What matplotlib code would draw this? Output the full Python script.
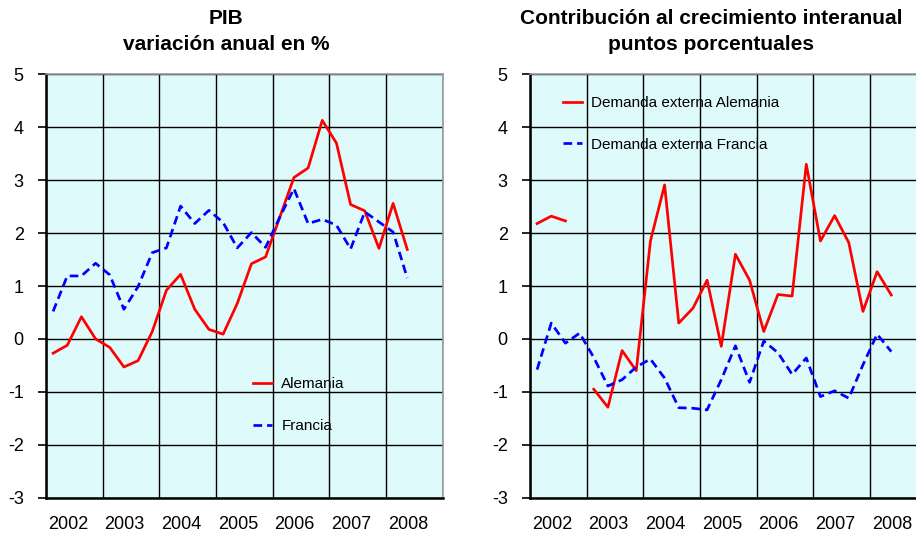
import matplotlib
matplotlib.use("Agg")
import matplotlib.pyplot as plt
import numpy as np

plt.rcParams['font.family'] = ['Liberation Sans', 'DejaVu Sans']
plt.rcParams['axes.unicode_minus'] = False

# quarterly data 2002T1 .. 2008T2
years = [2002, 2003, 2004, 2005, 2006, 2007, 2008]
quarters = [(y, q) for y in years for q in range(1, 5)][:26]

pib_alemania = [-0.27, -0.12, 0.42, 0.00, -0.16, -0.53, -0.41, 0.14,
                0.92, 1.22, 0.56, 0.18, 0.09, 0.67, 1.42, 1.55,
                2.30, 3.05, 3.23, 4.13, 3.70, 2.54, 2.42, 1.71,
                2.56, 1.69]
pib_francia = [0.52, 1.19, 1.19, 1.43, 1.21, 0.56, 0.99, 1.63,
               1.72, 2.51, 2.18, 2.43, 2.20, 1.72, 2.01, 1.73,
               2.30, 2.84, 2.18, 2.26, 2.15, 1.70, 2.40, 2.21,
               2.02, 1.15]

dem_ext_alemania = [2.18, 2.32, 2.23, np.nan, -0.95, -1.29, -0.22, -0.60,
                    1.85, 2.91, 0.30, 0.58, 1.11, -0.14, 1.60, 1.11,
                    0.14, 0.84, 0.81, 3.30, 1.85, 2.33, 1.82, 0.52,
                    1.27, 0.83]
dem_ext_francia = [-0.58, 0.30, -0.08, 0.11, -0.35, -0.89, -0.77, -0.53,
                   -0.38, -0.74, -1.30, -1.31, -1.34, -0.77, -0.13, -0.82,
                   -0.04, -0.26, -0.67, -0.36, -1.09, -0.98, -1.12, -0.49,
                   0.09, -0.24]

x = np.array([y + (q - 0.5) / 4 for y, q in quarters])

bg = '#DFFAFA'
red = '#FF0000'
blue = '#0000FF'

fig = plt.figure(figsize=(9.16, 5.33), dpi=100)

def setup(ax):
    ax.set_facecolor(bg)
    ax.set_xlim(years[0], years[-1] + 1)
    ax.set_ylim(-3, 5)
    ax.set_yticks(range(-3, 6))
    ax.set_xticks(range(years[0], years[-1] + 2))
    # year labels sit a little left of the column centre, as in the original
    ax.set_xticks([y + 0.385 for y in years], minor=True)
    ax.set_xticklabels([])
    ax.set_xticklabels([str(y) for y in years], minor=True)
    ax.tick_params(axis='x', which='both', length=0)
    ax.tick_params(axis='x', which='minor', pad=13, labelsize=13)
    ax.tick_params(axis='y', length=5.5, width=1.2, direction='out', pad=10.5, labelsize=13)
    ax.grid(True, which='major', color='black', linewidth=1.0)
    for s in ['left', 'bottom']:
        ax.spines[s].set_linewidth(1.8)
        ax.spines[s].set_color('black')
    for s in ['top', 'right']:
        ax.spines[s].set_linewidth(1.2)
        ax.spines[s].set_color('#9a9a9a')
    ax.set_axisbelow(True)

leg_kw = dict(frameon=False, fontsize=11, handlelength=1.24, handletextpad=0.59,
              labelspacing=1.82, borderaxespad=0, borderpad=0)

# left panel
ax1 = fig.add_axes([46 / 916, 0.0662, 396.7 / 916, 0.7944])
setup(ax1)
ax1.plot(x, pib_alemania, color=red, lw=1.95, label='Alemania')
ax1.plot(x, pib_francia, color=blue, lw=1.95, dashes=(3.2, 1.8), label='Francia')
ax1.legend(loc='upper left', bbox_to_anchor=(0.5226, 0.284), **leg_kw)

# right panel
ax2 = fig.add_axes([530 / 916, 0.0662, 396.7 / 916, 0.7944])
setup(ax2)
ax2.plot(x, dem_ext_alemania, color=red, lw=1.95, label='Demanda externa Alemania')
ax2.plot(x, dem_ext_francia, color=blue, lw=1.95, dashes=(3.2, 1.8), label='Demanda externa Francia')
ax2.legend(loc='upper left', bbox_to_anchor=(0.083, 0.949), **leg_kw)

title_kw = dict(ha='center', va='center', fontsize=15, fontweight='bold')
fig.text(226 / 916, 1 - 18 / 533, 'PIB', **title_kw)
fig.text(226 / 916, 1 - 45 / 533, 'variación anual en %', **title_kw)
fig.text(711 / 916, 1 - 18 / 533, 'Contribución al crecimiento interanual', **title_kw)
fig.text(711 / 916, 1 - 45 / 533, 'puntos porcentuales', **title_kw)

fig.savefig('out.png', dpi=100)
